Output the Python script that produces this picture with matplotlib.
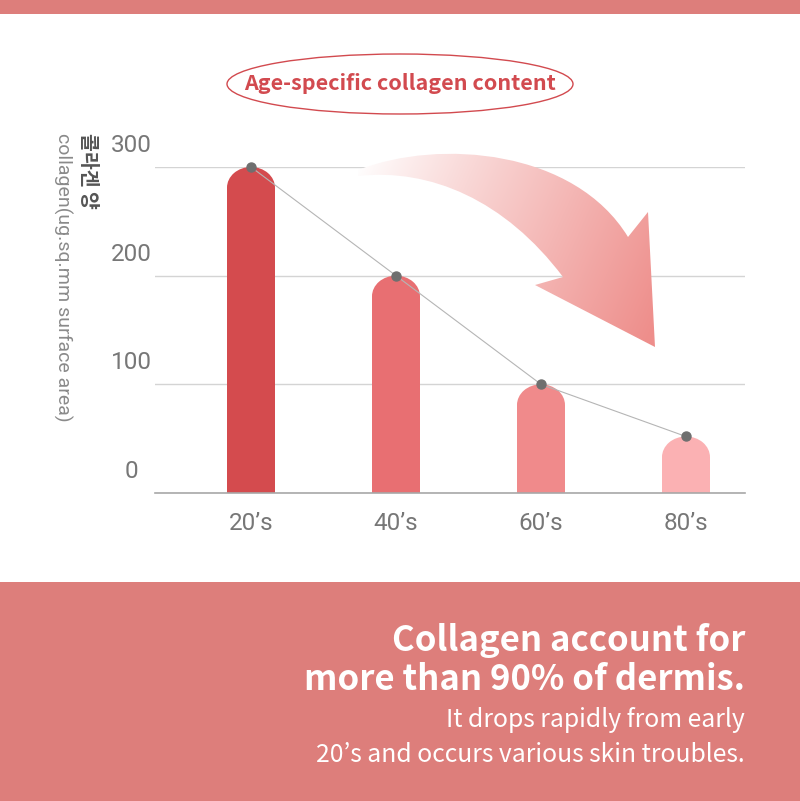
import numpy as np
import matplotlib
matplotlib.use('Agg')
import matplotlib.pyplot as plt
from matplotlib.patches import Ellipse, PathPatch
from matplotlib.path import Path
from matplotlib.colors import to_rgb
from matplotlib.transforms import ScaledTranslation

AGES = ["20\u2019s", "40\u2019s", "60\u2019s", "80\u2019s"]
COLLAGEN = [300, 200, 100, 52]
BAR_COLORS = ["#d44b4e", "#e86f72", "#f08a8b", "#fbb1b3"]
YTICKS = [0, 100, 200, 300]

BAND = "#dd7e7b"
GREY = "#777777"
LATIN = ['Roboto', 'DejaVu Sans']
CJK = ['Noto Sans CJK KR', 'DejaVu Sans']

W, H = 800, 801
fig = plt.figure(figsize=(W / 100, H / 100), dpi=100)
fig.patch.set_facecolor("white")

# background bands (pixel coords)
bg = fig.add_axes([0, 0, 1, 1], zorder=0)
bg.set_xlim(0, W); bg.set_ylim(H, 0); bg.axis("off")
bg.add_patch(plt.Rectangle((0, 0), W, 14, color=BAND, lw=0))
bg.add_patch(plt.Rectangle((0, 582), W, H - 582, color=BAND, lw=0))

# chart axes
x0, x1, ytop, ybot = 155, 745, 167, 493
ax = fig.add_axes([x0 / W, 1 - ybot / H, (x1 - x0) / W, (ybot - ytop) / H], zorder=1)
ax.patch.set_alpha(0)
xs = np.arange(len(AGES))
ax.set_xlim(-0.662, 3.407)
ax.set_ylim(0, 300)

bw = 0.331
cap = 19.0
for x, v, c in zip(xs, COLLAGEN, BAR_COLORS):
    ax.bar(x, v - cap, width=bw, color=c, lw=0, zorder=2)
    ax.add_patch(Ellipse((x, v - cap), bw, 2 * cap, color=c, lw=0, zorder=2, clip_on=False))

ax.plot(xs, COLLAGEN, color="#b5b5b5", lw=0.8, zorder=3, clip_on=False)
ax.plot(xs, COLLAGEN, "o", color="#6f6f6f", ms=6.5, zorder=4, clip_on=False)

ax.set_yticks(YTICKS)
ax.grid(axis="y", color="#d4d4d4", lw=1, zorder=0)
ax.set_yticklabels([str(t) for t in YTICKS], family=LATIN, fontsize=17.5, color=GREY, ha="center")
ax.tick_params(axis="y", length=0, pad=17)
off = ScaledTranslation(0, 24 / 100, fig.dpi_scale_trans)
for lab in ax.get_yticklabels():
    lab.set_transform(lab.get_transform() + off)

ax.set_xticks(xs)
ax.set_xticklabels(AGES, family=LATIN, fontsize=17.5, color=GREY)
ax.tick_params(axis="x", length=0, pad=14)
for s in ["top", "right", "left"]:
    ax.spines[s].set_visible(False)
ax.spines["bottom"].set_color("#a8a8a8")
ax.spines["bottom"].set_linewidth(1.2)

# overlay: arrow, title, texts
ov = fig.add_axes([0, 0, 1, 1], zorder=3)
ov.patch.set_alpha(0)

verts = [(358, 170), (440, 138), (575, 150), (628, 237),
         (648, 212), (655, 347), (535, 285), (563, 277),
         (505, 200), (430, 168), (358, 176), (358, 170)]
codes = [Path.MOVETO, Path.CURVE4, Path.CURVE4, Path.CURVE4,
         Path.LINETO, Path.LINETO, Path.LINETO, Path.LINETO,
         Path.CURVE4, Path.CURVE4, Path.CURVE4, Path.CLOSEPOLY]
arrow = PathPatch(Path(verts, codes), facecolor="none", edgecolor="none")
ov.add_patch(arrow)
gx, gy = np.meshgrid(np.linspace(350, 660, 320), np.linspace(140, 355, 220))
g = ((gx - 360) + 0.45 * (gy - 160)) / 370.0
g = np.clip(g, 0, 1) ** 0.9
c0, c1 = np.array(to_rgb("#ffffff")), np.array(to_rgb("#ee8e8b"))
img = c0 + (c1 - c0) * g[..., None]
im = ov.imshow(img, extent=(350, 660, 355, 140), origin="upper", aspect="auto", zorder=1)
im.set_clip_path(arrow)

ov.set_xlim(0, W); ov.set_ylim(H, 0); ov.axis("off")

ov.add_patch(Ellipse((400, 84), 346, 60, facecolor="none", edgecolor="#d24a4f", lw=1))
ov.text(400, 84, "Age-specific collagen content", family=CJK, fontweight="bold",
        fontsize=15.5, color="#d24a4f", ha="center", va="center")

ov.text(88, 133, "\ucf5c\ub77c\uac90 \uc591", family=CJK, fontweight="bold", fontsize=14,
        color="#555555", rotation=270, ha="center", va="top")
ov.text(63, 133, "collagen(ug.sq.mm surface area)", family=LATIN,
        fontsize=14, color="#8a8a8a", rotation=270, ha="center", va="top")

ov.text(745, 640, "Collagen account for", family=CJK, fontweight="bold", fontsize=25,
        color="white", ha="right", va="center")
ov.text(745, 680, "more than 90% of dermis.", family=CJK, fontweight="bold", fontsize=25,
        color="white", ha="right", va="center")
ov.text(745, 720, "It drops rapidly from early", family=CJK, fontweight="light", fontsize=17.8,
        color="white", ha="right", va="center")
ov.text(745, 755, "20\u2019s and occurs various skin troubles.", family=CJK, fontweight="light",
        fontsize=17.8, color="white", ha="right", va="center")

fig.savefig("out.png", dpi=100, facecolor="white")
